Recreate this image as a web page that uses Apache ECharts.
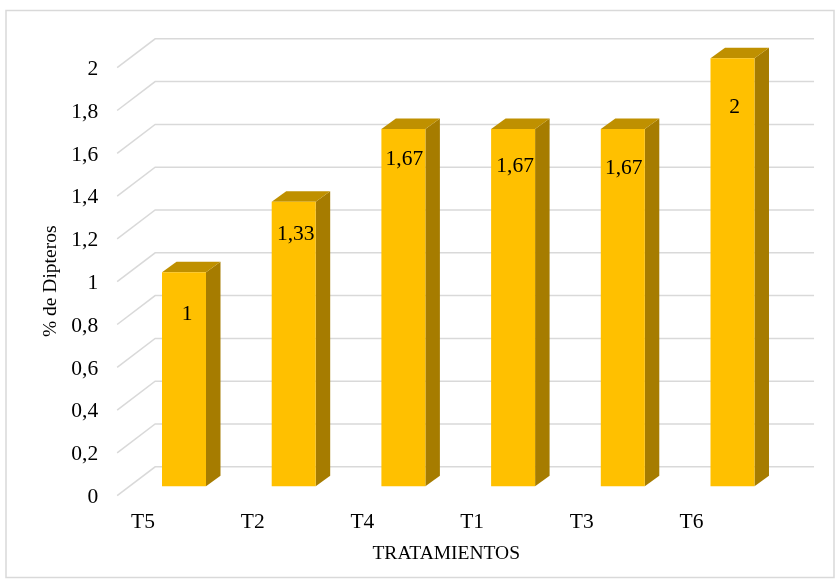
<!DOCTYPE html>
<html><head><meta charset="utf-8">
<style>html,body{margin:0;padding:0;background:#fff}#c{width:839px;height:584px}</style>
<script src="https://cdn.jsdelivr.net/npm/echarts@6/dist/echarts.min.js"></script>
</head><body><div id="c"></div>
<script>
const categories = ['T5','T2','T4','T1','T3','T6'];
const values = [1,1.33,1.67,1.67,1.67,2];
const yTicks = [0,0.2,0.4,0.6,0.8,1,1.2,1.4,1.6,1.8,2];
const labelDrop = [42,33,30,37,39,49];
const labelShift = [3,2,1,2,1,2];

const comma = v => String(v).replace('.',',');
const DX = 14.5, DY = 10.5;
const chart = echarts.init(document.getElementById('c'),null,{renderer:'canvas'});
const FONT = '"Liberation Serif","Times New Roman",serif';
chart.setOption({
  animation:false,
  backgroundColor:'#fff',
  graphic:[{type:'rect',shape:{x:6,y:10.5,width:828,height:567},style:{fill:'none',stroke:'#D9D9D9',lineWidth:1.5},z:0}],
  grid:{left:129.15,width:658.2,top:58.3,height:428},
  xAxis:{type:'category',data:categories,
    axisLine:{show:false},axisTick:{show:false},
    axisLabel:{color:'#000',fontFamily:FONT,fontSize:21.5,margin:25,padding:[0,82,0,0],interval:0},
    name:'TRATAMIENTOS',nameLocation:'middle',nameGap:58,
    nameTextStyle:{color:'#000',fontFamily:FONT,fontSize:19.5,padding:[0,24,0,0]}},
  yAxis:{type:'value',min:0,max:2,interval:0.2,
    axisLine:{show:false},axisTick:{show:false},splitLine:{show:false},
    axisLabel:{margin:31,formatter:v=>'{a|'+comma(v)+'}',
      rich:{a:{color:'#000',fontFamily:FONT,fontSize:21.5,padding:[22,0,0,0]}}},
    name:'% de Dipteros',nameLocation:'middle',nameGap:65,
    nameTextStyle:{color:'#000',fontFamily:FONT,fontSize:19.5,padding:[0,18,0,0]}},
  series:[
    {type:'custom',coordinateSystem:'cartesian2d',z:1,silent:true,clip:false,
     data:yTicks.map(v=>[0,v]),
     renderItem(p,api){
       const y = api.coord([0,api.value(1)])[1];
       const l = p.coordSys.x, r = l + p.coordSys.width;
       return {type:'polyline',shape:{points:[[l-12,y+9.4],[l+26,y-19.5],[r+26.7,y-19.5]]},
         style:{fill:'none',stroke:'#D9D9D9',lineWidth:1.5}};
     }},
    {type:'custom',coordinateSystem:'cartesian2d',z:2,silent:true,clip:false,
     data:values.map((v,i)=>[i,v]),
     encode:{x:0,y:1},
     renderItem(p,api){
       const i = api.value(0), v = api.value(1);
       const top = api.coord([i,v]), base = api.coord([i,0]);
       const w = api.size([1,0])[0]*0.401;
       const x0 = top[0]-w/2, x1 = top[0]+w/2, y0 = top[1], y1 = base[1];
       return {type:'group',children:[
         {type:'polygon',shape:{points:[[x1,y0],[x1+DX,y0-DY],[x1+DX,y1-DY],[x1,y1]]},style:{fill:'#A67C00'}},
         {type:'polygon',shape:{points:[[x0,y0],[x0+DX,y0-DY],[x1+DX,y0-DY],[x1,y0]]},style:{fill:'#BF9000'}},
         {type:'rect',shape:{x:x0,y:y0,width:w,height:y1-y0},style:{fill:'#FFC000'}},
         {type:'text',style:{x:top[0]+labelShift[p.dataIndex],y:y0+labelDrop[p.dataIndex],text:comma(v),
            fill:'#000',font:'21.5px '+FONT,align:'center',verticalAlign:'middle'}}
       ]};
     }}
  ]
});
</script></body></html>
